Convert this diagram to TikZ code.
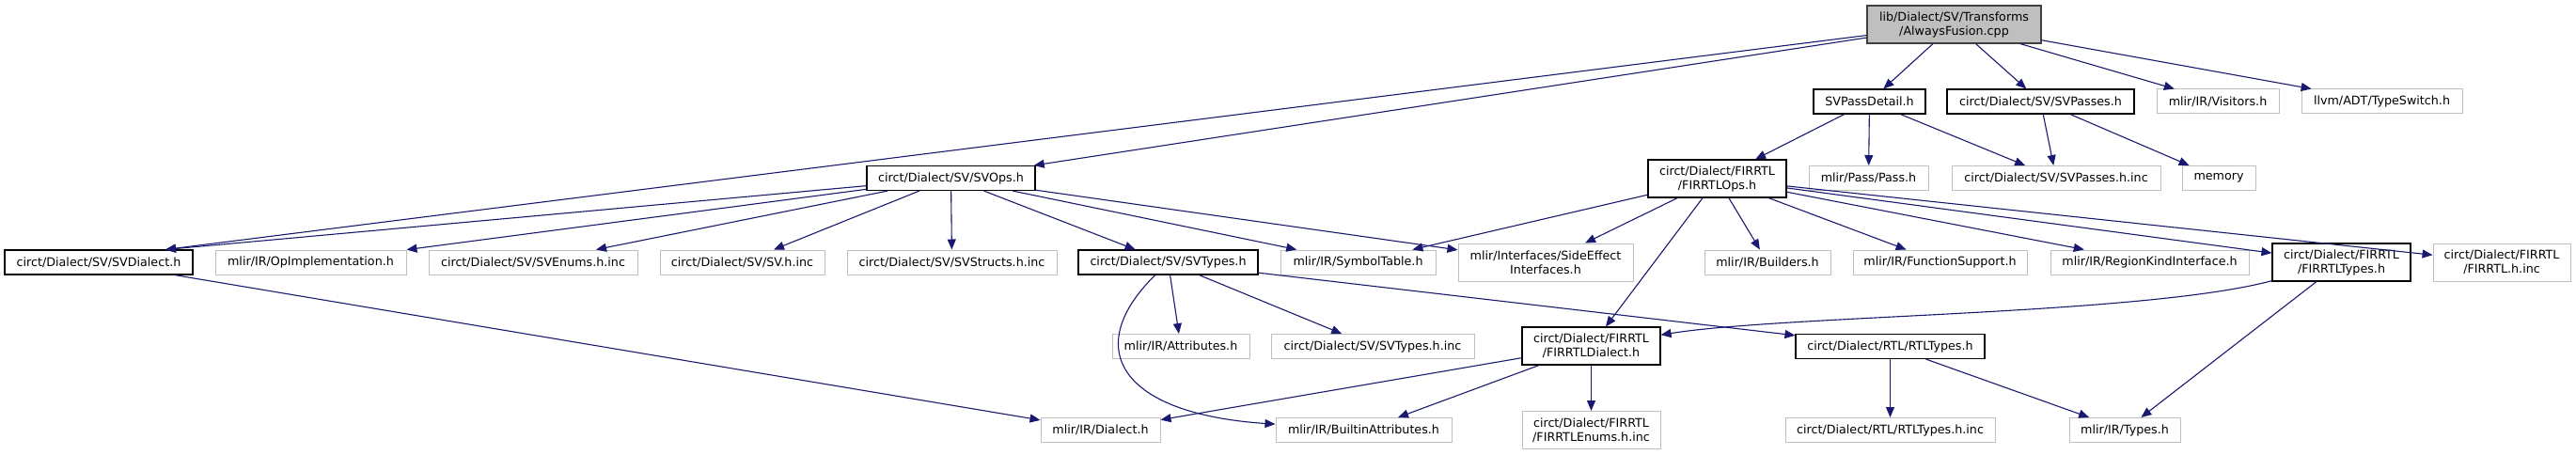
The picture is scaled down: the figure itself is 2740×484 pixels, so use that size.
\documentclass[tikz,border=0pt]{standalone}
\usepackage{fontspec}
\setmainfont{DejaVu Sans}
\usepackage{xcolor}
\usetikzlibrary{arrows.meta}
\definecolor{edgeblue}{HTML}{191970}
\definecolor{boxgray}{HTML}{BFBFBF}
\definecolor{rootborder}{HTML}{404040}

\begin{document}
\begin{tikzpicture}[x=1pt, y=-1pt,
  file/.style={rectangle, inner sep=0pt, align=center, text=black,
    font=\fontsize{12.7}{15}\selectfont, minimum height=26pt},
  two/.style={minimum height=40pt},
  dfile/.style={file, draw=black, line width=1.1pt},
  xfile/.style={file, draw=boxgray, line width=1pt},
  rootfile/.style={file, two, draw=rootborder, fill=boxgray, line width=1.1pt},
  edge/.style={draw=edgeblue, line width=1.1pt, -{Triangle[length=11pt, width=9pt]}}]
\useasboundingbox (0,0) rectangle (2740,484);
%--- top ---
\node[rootfile, minimum width=185pt] (root) at (2078.5,26) {lib/Dialect/SV/Transforms\\/AlwaysFusion.cpp};
%--- rank 1 ---
\node[dfile, minimum width=119pt] (svpassdetail) at (1988.5,108) {SVPassDetail.h};
\node[dfile, minimum width=199pt] (svpasses) at (2170.5,108) {circt/Dialect/SV/SVPasses.h};
\node[xfile, minimum width=130pt] (visitors) at (2359,108) {mlir/IR/Visitors.h};
\node[xfile, minimum width=171pt] (typeswitch) at (2533.5,108) {llvm/ADT/TypeSwitch.h};
%--- rank 2 ---
\node[dfile, minimum width=179pt] (svops) at (1011.5,189.5) {circt/Dialect/SV/SVOps.h};
\node[dfile, two, minimum width=147pt] (firrtlops) at (1826.5,190) {circt/Dialect/FIRRTL\\/FIRRTLOps.h};
\node[xfile, minimum width=127pt] (pass) at (1987.5,189.5) {mlir/Pass/Pass.h};
\node[xfile, minimum width=222pt] (svpassesinc) at (2187,189.5) {circt/Dialect/SV/SVPasses.h.inc};
\node[xfile, minimum width=78pt] (memory) at (2360,189.5) {memory};
%--- rank 3 ---
\node[dfile, minimum width=200pt] (svdialect) at (105,279) {circt/Dialect/SV/SVDialect.h};
\node[xfile, minimum width=203pt] (opimpl) at (330.5,279) {mlir/IR/OpImplementation.h};
\node[xfile, minimum width=222pt] (svenums) at (567,279) {circt/Dialect/SV/SVEnums.h.inc};
\node[xfile, minimum width=175pt] (svinc) at (789.5,279) {circt/Dialect/SV/SV.h.inc};
\node[xfile, minimum width=223pt] (svstructs) at (1012.5,279) {circt/Dialect/SV/SVStructs.h.inc};
\node[dfile, minimum width=191pt] (svtypes) at (1242.5,279) {circt/Dialect/SV/SVTypes.h};
\node[xfile, minimum width=165pt] (symboltable) at (1444.5,279) {mlir/IR/SymbolTable.h};
\node[xfile, two, minimum width=186pt] (sideeffect) at (1644,279) {mlir/Interfaces/SideEffect\\Interfaces.h};
\node[xfile, minimum width=134pt] (builders) at (1880,279) {mlir/IR/Builders.h};
\node[xfile, minimum width=185pt] (funcsupport) at (2063.5,279) {mlir/IR/FunctionSupport.h};
\node[xfile, minimum width=211pt] (regionkind) at (2286.5,279) {mlir/IR/RegionKindInterface.h};
\node[dfile, two, minimum width=147pt] (firrtltypes) at (2490.5,279) {circt/Dialect/FIRRTL\\/FIRRTLTypes.h};
\node[xfile, two, minimum width=146pt] (firrtlinc) at (2661,279) {circt/Dialect/FIRRTL\\/FIRRTL.h.inc};
%--- rank 4 ---
\node[xfile, minimum width=146pt] (attributes) at (1256,368.5) {mlir/IR/Attributes.h};
\node[xfile, minimum width=216pt] (svtypesinc) at (1460,368.5) {circt/Dialect/SV/SVTypes.h.inc};
\node[dfile, two, minimum width=147pt] (firrtldialect) at (1692.5,368) {circt/Dialect/FIRRTL\\/FIRRTLDialect.h};
\node[dfile, minimum width=201pt] (rtltypes) at (2010.5,368.5) {circt/Dialect/RTL/RTLTypes.h};
%--- rank 5 ---
\node[xfile, minimum width=127pt] (dialect) at (1170.5,457.5) {mlir/IR/Dialect.h};
\node[xfile, minimum width=187pt] (builtin) at (1450.5,457.5) {mlir/IR/BuiltinAttributes.h};
\node[xfile, two, minimum width=147pt] (firrtlenums) at (1692.5,457.5) {circt/Dialect/FIRRTL\\/FIRRTLEnums.h.inc};
\node[xfile, minimum width=223pt] (rtltypesinc) at (2010.5,457.5) {circt/Dialect/RTL/RTLTypes.h.inc};
\node[xfile, minimum width=118pt] (types) at (2260,457.5) {mlir/IR/Types.h};
% both arrows into SVDialect.h meet here
\coordinate (svdialectin) at ([xshift=71pt]svdialect.north);
%--- includes of AlwaysFusion.cpp ---
\draw[edge] (root) -- (svdialectin);
\draw[edge] (root) -- (svops);
\draw[edge] (root) -- (svpassdetail);
\draw[edge] (root) -- (svpasses);
\draw[edge] (root) -- (visitors);
\draw[edge] (root) -- (typeswitch);
%--- SVPassDetail.h / SVPasses.h ---
\draw[edge] (svpassdetail) -- (firrtlops);
\draw[edge] (svpassdetail) -- (pass);
\draw[edge] (svpassdetail) -- (svpassesinc);
\draw[edge] (svpasses) -- (svpassesinc);
\draw[edge] (svpasses) -- (memory);
%--- SVOps.h ---
\draw[edge] (svops) -- (svdialectin);
\draw[edge] (svops) -- (opimpl);
\draw[edge] (svops) -- (svenums);
\draw[edge] (svops) -- (svinc);
\draw[edge] (svops) -- (svstructs);
\draw[edge] (svops) -- (svtypes);
\draw[edge] (svops) -- (symboltable);
\draw[edge] (svops) -- (sideeffect);
%--- FIRRTLOps.h ---
\draw[edge] (firrtlops) -- (symboltable);
\draw[edge] (firrtlops) -- (sideeffect);
\draw[edge] (firrtlops) -- (firrtldialect);
\draw[edge] (firrtlops) -- (builders);
\draw[edge] (firrtlops) -- (funcsupport);
\draw[edge] (firrtlops) -- (regionkind);
\draw[edge] (firrtlops) -- (firrtltypes);
\draw[edge] (firrtlops) -- (firrtlinc);
%--- SVTypes.h ---
\draw[edge] (svtypes) -- (attributes);
\draw[edge] (svtypes) -- (svtypesinc);
\draw[edge] (svtypes) .. controls (1150,370) and (1190,440) .. (builtin);
\draw[edge] (svtypes) -- (rtltypes);
%--- lower ranks ---
\draw[edge] (svdialect) -- (dialect);
\draw[edge] (firrtltypes) .. controls (2280,335) and (1900,335) .. (firrtldialect);
\draw[edge] (firrtltypes) -- (types);
\draw[edge] (firrtldialect) -- (dialect);
\draw[edge] (firrtldialect) -- (builtin);
\draw[edge] (firrtldialect) -- (firrtlenums);
\draw[edge] (rtltypes) -- (rtltypesinc);
\draw[edge] (rtltypes) -- (types);
\end{tikzpicture}
\end{document}
